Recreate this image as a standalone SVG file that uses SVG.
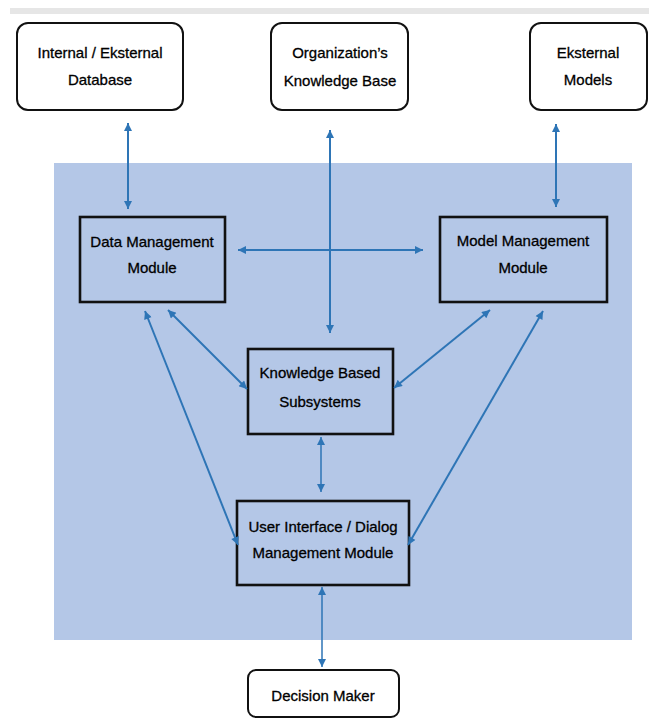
<svg xmlns="http://www.w3.org/2000/svg" width="649" height="718" viewBox="0 0 649 718">
<style>
.bg{fill:#ffffff}
.bar{fill:#e6e6e6}
.panel{fill:#b4c7e7}
.ext{fill:#ffffff;stroke:#111111;stroke-width:2}
.mod{fill:none;stroke:#111111;stroke-width:2.6}
.lbl{font-family:"Liberation Sans",Arial,sans-serif;font-size:15px;fill:#000000;stroke:#000000;stroke-width:0.3;text-anchor:middle}
.c{stroke:#2e75b6;stroke-width:2;fill:none;marker-start:url(#ah);marker-end:url(#ah)}
.t{stroke-width:1.5}
</style>
<defs>
<marker id="ah" viewBox="0 0 10 10" refX="10" refY="5" markerWidth="10" markerHeight="8" markerUnits="userSpaceOnUse" orient="auto-start-reverse">
<path d="M0,0 L10,5 L0,10 z" fill="#2e75b6"/>
</marker>
</defs>
<rect class="bg" x="0" y="0" width="649" height="718"/>
<rect class="bar" x="10" y="8" width="639" height="6"/>
<rect class="panel" x="54" y="163" width="578" height="477"/>

<g id="internal-external-database">
<rect class="ext" x="17" y="23" width="166" height="87" rx="11"/>
<text class="lbl" x="100" y="58">Internal / Eksternal</text>
<text class="lbl" x="100" y="85">Database</text>
</g>
<g id="organizations-knowledge-base">
<rect class="ext" x="271" y="23" width="137" height="87" rx="11"/>
<text class="lbl" x="340" y="58">Organization’s</text>
<text class="lbl" x="340" y="86">Knowledge Base</text>
</g>
<g id="eksternal-models">
<rect class="ext" x="530" y="23" width="117" height="87" rx="11"/>
<text class="lbl" x="588" y="58">Eksternal</text>
<text class="lbl" x="588" y="85">Models</text>
</g>
<g id="data-management-module">
<rect class="mod" x="80" y="217" width="145" height="85"/>
<text class="lbl" x="152" y="247">Data Management</text>
<text class="lbl" x="152" y="273">Module</text>
</g>
<g id="model-management-module">
<rect class="mod" x="440" y="217" width="167" height="85"/>
<text class="lbl" x="523" y="246">Model Management</text>
<text class="lbl" x="523" y="273">Module</text>
</g>
<g id="knowledge-based-subsystems">
<rect class="mod" x="248" y="349" width="145" height="85"/>
<text class="lbl" x="320" y="378">Knowledge Based</text>
<text class="lbl" x="320" y="407">Subsystems</text>
</g>
<g id="user-interface-dialog-management-module">
<rect class="mod" x="237" y="501" width="172" height="84"/>
<text class="lbl" x="323" y="532">User Interface / Dialog</text>
<text class="lbl" x="323" y="558">Management Module</text>
</g>
<g id="decision-maker">
<rect class="ext" x="248" y="670" width="151" height="47" rx="8"/>
<text class="lbl" x="323" y="701">Decision Maker</text>
</g>

<g id="connectors">
<line class="c" x1="128" y1="123" x2="128" y2="209"/>
<line class="c" x1="330" y1="130" x2="330" y2="333"/>
<line class="c" x1="556" y1="124" x2="556" y2="207"/>
<line class="c" x1="238" y1="250" x2="423" y2="250"/>
<line class="c" x1="168" y1="310" x2="247" y2="389"/>
<line class="c" x1="145" y1="311" x2="238" y2="545"/>
<line class="c" x1="490" y1="310" x2="394" y2="388"/>
<line class="c" x1="543" y1="311" x2="408" y2="545"/>
<line class="c t" x1="321" y1="437" x2="321" y2="492"/>
<line class="c t" x1="322" y1="587" x2="322" y2="667"/>
</g>
</svg>
